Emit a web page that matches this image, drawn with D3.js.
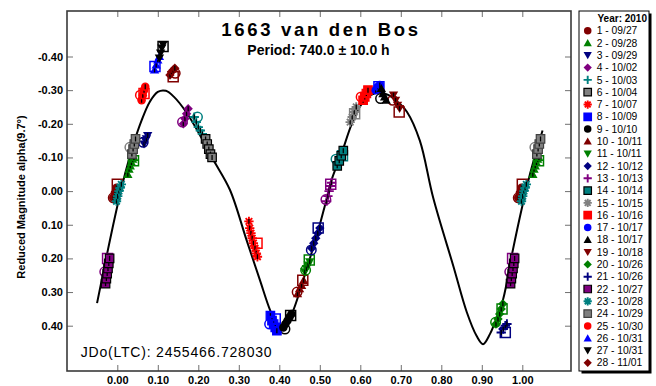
<!DOCTYPE html>
<html><head><meta charset="utf-8">
<script src="https://cdn.jsdelivr.net/npm/d3@7"></script>
<style>html,body{margin:0;padding:0;background:#fff;} svg{display:block;font-family:"Liberation Sans",Arial,sans-serif;}</style>
</head><body><svg id="chart" width="656" height="386"></svg>
<script>
// ---------------- DATA ----------------
const titleText = "1663 van den Bos";
const subtitleText = "Period: 740.0 \u00B1 10.0 h";
const jdText = "JDo(LTC): 2455466.728030";
const yTitle = "Reduced Magnitude alpha(9.7\u00B0)";
const legendTitle = "Year: 2010";

const xTicks = [0, 0.1, 0.2, 0.3, 0.4, 0.5, 0.6, 0.7, 0.8, 0.9, 1.0];
const xTickLabels = ["0.00","0.10","0.20","0.30","0.40","0.50","0.60","0.70","0.80","0.90","1.00"];
const yTicks = [-0.4, -0.3, -0.2, -0.1, 0, 0.1, 0.2, 0.3, 0.4];
const yTickLabels = ["-0.40","-0.30","-0.20","-0.10","0.00","0.10","0.20","0.30","0.40"];

const sessionLabels = ["1 - 09/27","2 - 09/28","3 - 09/29","4 - 10/02","5 - 10/03","6 - 10/04","7 - 10/07",
  "8 - 10/09","9 - 10/10","10 - 10/11","11 - 10/11","12 - 10/12","13 - 10/13","14 - 10/14","15 - 10/15",
  "16 - 10/16","17 - 10/17","18 - 10/17","19 - 10/18","20 - 10/26","21 - 10/26","22 - 10/27","23 - 10/28",
  "24 - 10/29","25 - 10/30","26 - 10/31","27 - 10/31","28 - 11/01"];
const sessionColors = ["#800000","#008000","#000080","#800080","#008080","#808080","#ff0000",
  "#0000ff","#000000","#800000","#008000","#000080","#800080","#008080","#808080",
  "#ff0000","#0000ff","#000000","#800000","#008000","#000080","#800080","#008080",
  "#808080","#ff0000","#0000ff","#000000","#800000"];
const sessionShapes = ["circle","triUp","triDown","diamond","plus","square","asterisk",
  "square","circle","triUp","triDown","diamond","plus","square","asterisk",
  "square","circle","triUp","triDown","diamond","plus","square","asterisk",
  "square","circle","triUp","triDown","diamond"];
const squareBorders = {6:"#000000", 14:"#000000", 22:"#000000", 24:"#404040"};

// observed phases / reduced magnitudes per session
const sessionPhases = [
  [0.990, 0.994, 0.998],
  [0.026, 0.029, 0.032, 0.035, 0.038, 0.041],
  [0.066, 0.069, 0.072, 0.075],
  [0.163, 0.167, 0.171, 0.175],
  [0.190, 0.195, 0.200, 0.205, 0.210],
  [0.218, 0.222, 0.226, 0.230, 0.234],
  [0.325, 0.327, 0.330, 0.333, 0.336, 0.340, 0.343, 0.346],
  [0.378, 0.382, 0.386, 0.390, 0.394],
  [0.410, 0.415, 0.420, 0.425, 0.430],
  [0.445, 0.450, 0.455, 0.460],
  [0.463, 0.467, 0.471, 0.475],
  [0.480, 0.485, 0.490, 0.495, 0.500],
  [0.517, 0.520, 0.523, 0.526, 0.529],
  [0.543, 0.548, 0.553, 0.558],
  [0.575, 0.580, 0.585, 0.590],
  [0.607, 0.611, 0.615, 0.619],
  [0.638, 0.643, 0.648],
  [0.652, 0.656, 0.660, 0.664],
  [0.682, 0.687, 0.692, 0.697],
  [0.935, 0.940, 0.944, 0.948, 0.952],
  [0.948, 0.953, 0.958, 0.962],
  [0.971, 0.973, 0.975, 0.977, 0.979, 0.981],
  [0.998, 0.001, 0.004, 0.007, 0.010],
  [0.036, 0.039, 0.042, 0.045],
  [0.060, 0.063, 0.066, 0.069],
  [0.092, 0.096, 0.100, 0.104],
  [0.104, 0.107, 0.110, 0.113],
  [0.130, 0.134, 0.138, 0.142]
];
const sessionMags = [
  [0.020, 0.005, -0.010],
  [-0.050, -0.065, -0.075, -0.085, -0.095, -0.100],
  [-0.140, -0.150, -0.155, -0.165],
  [-0.200, -0.215, -0.230, -0.245],
  [-0.220, -0.205, -0.190, -0.180, -0.170],
  [-0.155, -0.140, -0.125, -0.110, -0.100],
  [0.090, 0.110, 0.125, 0.140, 0.155, 0.170, 0.185, 0.195],
  [0.370, 0.385, 0.395, 0.405, 0.415],
  [0.405, 0.395, 0.385, 0.375, 0.365],
  [0.305, 0.290, 0.280, 0.265],
  [0.240, 0.230, 0.220, 0.210],
  [0.170, 0.155, 0.140, 0.125, 0.110],
  [0.030, 0.015, 0.000, -0.015, -0.025],
  [-0.075, -0.090, -0.105, -0.120],
  [-0.205, -0.220, -0.235, -0.250],
  [-0.270, -0.280, -0.290, -0.300],
  [-0.300, -0.310, -0.315],
  [-0.305, -0.290, -0.280, -0.270],
  [-0.285, -0.270, -0.255, -0.245],
  [0.395, 0.380, 0.365, 0.350, 0.335],
  [0.420, 0.410, 0.400, 0.395],
  [0.275, 0.260, 0.245, 0.230, 0.215, 0.200],
  [0.030, 0.015, 0.000, -0.010, -0.020],
  [-0.110, -0.125, -0.140, -0.155],
  [-0.270, -0.285, -0.300, -0.310],
  [-0.360, -0.375, -0.390, -0.400],
  [-0.395, -0.410, -0.425, -0.435],
  [-0.345, -0.355, -0.360, -0.365]
];

// open (outline) markers
const hollowSession = [1,1,2,3,4,5,7,8,8,9,9,10,10,11,11,12,12,13,13,14,14,15,16,17,18,19,19,20,20,21,22,22,24,25,25,26,27,28,28];
const hollowShape = ["c","s","s","c","c","c","s","c","s","c","s","c","s","c","s","c","s","c","s","c","s","s","c","s","c","c","s","c","s","s","c","s","c","c","s","s","s","c","s"];
const hollowPhase = [0.990,0.000,0.040,0.064,0.161,0.198,0.345,0.376,0.390,0.414,0.428,0.444,0.458,0.465,0.474,0.479,0.496,0.515,0.527,0.540,0.556,0.586,0.602,0.646,0.650,0.680,0.696,0.934,0.950,0.958,0.969,0.976,0.031,0.057,0.066,0.093,0.113,0.143,0.138];
const hollowMag = [0.020,-0.020,-0.090,-0.145,-0.205,-0.220,0.155,0.395,0.380,0.410,0.370,0.300,0.265,0.235,0.205,0.175,0.110,0.025,-0.020,-0.095,-0.105,-0.230,-0.280,-0.310,-0.275,-0.270,-0.235,0.390,0.350,0.420,0.240,0.200,-0.130,-0.285,-0.290,-0.370,-0.430,-0.350,-0.340];

// fitted curve
const fitPhase = [-0.05,-0.025,0.0,0.02,0.04,0.06,0.08,0.10,0.12,0.14,0.17,0.20,0.237,0.278,0.319,0.352,0.377,0.392,0.406,0.42,0.435,0.472,0.50,0.513,0.529,0.554,0.579,0.603,0.625,0.648,0.67,0.695,0.715,0.747,0.78,0.83,0.863,0.887,0.903,0.92,0.937,0.953,0.975,1.0,1.02,1.04,1.05];
const fitMag = [0.333,0.185,0.045,-0.055,-0.140,-0.210,-0.265,-0.295,-0.298,-0.280,-0.235,-0.175,-0.093,-0.004,0.145,0.264,0.353,0.390,0.400,0.390,0.353,0.214,0.100,0.041,-0.033,-0.113,-0.200,-0.258,-0.285,-0.293,-0.285,-0.262,-0.236,-0.150,0.020,0.224,0.360,0.430,0.455,0.425,0.375,0.320,0.185,0.045,-0.055,-0.140,-0.180];

// ---------------- LAYOUT ----------------
const W = 656, H = 386;
const plotL = 67, plotR = 571, plotT = 11, plotB = 371;
const phaseMin = -0.032, phaseMax = 1.05;
const svg = d3.select("#chart");
svg.append("rect").attr("width", W).attr("height", H).attr("fill", "#fff");

const x = d3.scaleLinear().domain([0, 1]).range([117.3, 522.3]);
const y = d3.scaleLinear().domain([-0.4, 0.4]).range([56.5, 325.7]);

// custom symbol types (r = half width)
function mk(fn) { return { draw: (ctx, size) => fn(ctx, Math.sqrt(size) / 2) }; }
const shapeTypes = {
  circle: mk((c, r) => { c.moveTo(r, 0); c.arc(0, 0, r, 0, 2 * Math.PI); c.closePath(); }),
  triUp: mk((c, r) => { c.moveTo(0, -r * 1.05); c.lineTo(r * 1.1, r * 0.85); c.lineTo(-r * 1.1, r * 0.85); c.closePath(); }),
  triDown: mk((c, r) => { c.moveTo(0, r * 1.05); c.lineTo(r * 1.1, -r * 0.85); c.lineTo(-r * 1.1, -r * 0.85); c.closePath(); }),
  diamond: mk((c, r) => { c.moveTo(0, -r * 1.1); c.lineTo(r * 1.1, 0); c.lineTo(0, r * 1.1); c.lineTo(-r * 1.1, 0); c.closePath(); }),
  square: mk((c, r) => { c.rect(-r, -r, 2 * r, 2 * r); }),
  plus: mk((c, r) => { c.moveTo(-r * 1.1, 0); c.lineTo(r * 1.1, 0); c.moveTo(0, -r * 1.1); c.lineTo(0, r * 1.1); }),
  asterisk: mk((c, r) => {
    for (let k = 0; k < 4; k++) {
      const a = k * Math.PI / 4, dx = Math.cos(a) * r * 1.1, dy = Math.sin(a) * r * 1.1;
      c.moveTo(-dx, -dy); c.lineTo(dx, dy);
    }
  })
};
function styleMarker(sel, si) {
  const shape = sessionShapes[si], col = sessionColors[si];
  if (shape === "plus" || shape === "asterisk") {
    sel.attr("fill", "none").attr("stroke", col).attr("stroke-width", 1.9);
  } else if (shape === "square") {
    sel.attr("fill", col).attr("stroke", squareBorders[si + 1] || col).attr("stroke-width", 1.2);
  } else {
    sel.attr("fill", col).attr("stroke", "none");
  }
}
const sym = (si, d) => d3.symbol().type(shapeTypes[sessionShapes[si]]).size(d * d)();

// ---------------- FRAME & AXES ----------------
const gAx = svg.append("g");
const bottomAxis = d3.axisBottom(x).tickValues(xTicks).tickFormat((d, i) => xTickLabels[i]).tickSize(-6).tickSizeOuter(0).tickPadding(5);
const topAxis = d3.axisTop(x).tickValues(xTicks).tickFormat("").tickSize(-6).tickSizeOuter(0);
const leftAxis = d3.axisLeft(y).tickValues(yTicks).tickFormat((d, i) => yTickLabels[i]).tickSize(-6).tickSizeOuter(0).tickPadding(4);
const rightAxis = d3.axisRight(y).tickValues(yTicks).tickFormat("").tickSize(-6).tickSizeOuter(0);
function styleAxis(g) {
  g.select(".domain").remove();
  g.selectAll(".tick line").attr("stroke", "#707070").attr("stroke-width", 1);
  g.selectAll(".tick text").attr("fill", "#000").attr("font-size", "11px").attr("font-weight", "bold")
    .attr("font-family", "'Liberation Sans', Arial, sans-serif");
}
gAx.append("g").attr("transform", `translate(0,${plotB})`).call(bottomAxis).call(styleAxis);
gAx.append("g").attr("transform", `translate(0,${plotT})`).call(topAxis).call(styleAxis);
gAx.append("g").attr("transform", `translate(${plotL},0)`).call(leftAxis).call(styleAxis);
gAx.append("g").attr("transform", `translate(${plotR},0)`).call(rightAxis).call(styleAxis);

// ---------------- DATA MARKS ----------------
const gData = svg.append("g");
function copies(p) { return [p - 1, p, p + 1].filter(v => v >= phaseMin && v <= phaseMax); }

// fitted curve
const line = d3.line().x((d, i) => x(fitPhase[i])).y((d, i) => y(fitMag[i])).curve(d3.curveCatmullRom.alpha(0.5));
gData.append("path").attr("d", line(fitPhase)).attr("fill", "none").attr("stroke", "#000").attr("stroke-width", 2);

// hollow markers
hollowSession.forEach((s, i) => {
  const si = s - 1, col = sessionColors[si];
  copies(hollowPhase[i]).forEach(p => {
    const px = x(p), py = y(hollowMag[i]);
    const isSq = hollowShape[i] === "s";
    gData.append("path").attr("d", d3.symbol().type(isSq ? shapeTypes.square : shapeTypes.circle).size(isSq ? 100 : 90)())
      .attr("transform", `translate(${px},${py})`).attr("fill", "none").attr("stroke", col).attr("stroke-width", 1.5);
  });
});

// filled session points + error bars
sessionPhases.forEach((arr, si) => {
  arr.forEach((ph, k) => {
    const mag = sessionMags[si][k];
    copies(ph).forEach(p => {
      const px = x(p), py = y(mag);
      gData.append("path").attr("d", sym(si, 8.5)).attr("transform", `translate(${px},${py})`).call(styleMarker, si);
      gData.append("line").attr("x1", px).attr("x2", px).attr("y1", py - 2.5).attr("y2", py + 2.5)
        .attr("stroke", "#000").attr("stroke-width", 1.3);
    });
  });
});

// frame
svg.append("rect").attr("x", plotL).attr("y", plotT).attr("width", plotR - plotL).attr("height", plotB - plotT)
  .attr("fill", "none").attr("stroke", "#3a3a3a").attr("stroke-width", 1.6);

// ---------------- TEXTS ----------------
svg.append("text").attr("x", 321).attr("y", 36).attr("text-anchor", "middle")
  .attr("font-size", "18.5px").attr("font-weight", "bold").attr("letter-spacing", "2.7px").text(titleText);
svg.append("text").attr("x", 318.5).attr("y", 55).attr("text-anchor", "middle")
  .attr("font-size", "14px").attr("font-weight", "bold").text(subtitleText);
svg.append("text").attr("x", 80.7).attr("y", 357.3)
  .attr("font-size", "14px").attr("letter-spacing", "0.8px").text(jdText);
svg.append("text").attr("transform", "translate(25,197) rotate(-90)").attr("text-anchor", "middle")
  .attr("font-size", "11px").attr("font-weight", "bold").text(yTitle);

// ---------------- LEGEND ----------------
const lgX = 579, lgY = 11, lgW = 70, lgH = 360;
svg.append("rect").attr("x", lgX + 2.5).attr("y", lgY + 2.5).attr("width", lgW).attr("height", lgH).attr("fill", "#000");
svg.append("rect").attr("x", lgX).attr("y", lgY).attr("width", lgW).attr("height", lgH).attr("fill", "#fff").attr("stroke", "#000").attr("stroke-width", 1);
svg.append("text").attr("x", lgX + lgW - 2).attr("y", lgY + 11).attr("text-anchor", "end")
  .attr("font-size", "10px").attr("font-weight", "bold").text(legendTitle);
const lg = svg.append("g");
sessionLabels.forEach((lab, i) => {
  const cy = 30.7 + i * 12.3;
  lg.append("path").attr("d", sym(i, 7.5)).attr("transform", `translate(${587.7},${cy})`).call(styleMarker, i);
  lg.append("text").attr("x", 596.7).attr("y", cy + 3.6).attr("font-size", "10.3px").text(lab);
});
</script></body></html>
